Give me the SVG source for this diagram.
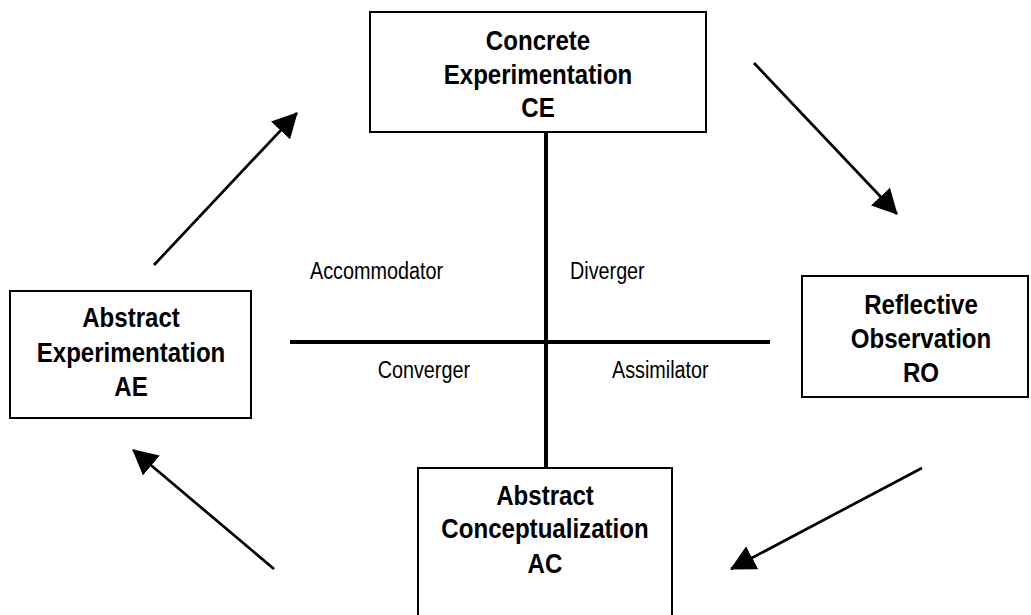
<svg xmlns="http://www.w3.org/2000/svg" width="1031" height="615" viewBox="0 0 1031 615">
<style>
.box{fill:#fff;stroke:#000;stroke-width:2}
.bt{font-family:"Liberation Sans",Arial,sans-serif;font-weight:bold;font-size:28px;text-anchor:middle;fill:#000}
.ql{font-family:"Liberation Sans",Arial,sans-serif;font-size:23px;fill:#000}
.axis{stroke:#000;stroke-width:4;fill:none}
.arr{stroke:#000;stroke-width:2.7;fill:none;marker-end:url(#ah)}
</style>
<defs>
<marker id="ah" markerUnits="userSpaceOnUse" markerWidth="27" markerHeight="26" refX="24" refY="13" orient="auto">
<path d="M0,0 L25,13 L0,26 Z" fill="#000"/>
</marker>
</defs>
<rect width="1031" height="615" fill="#fff"/>
<g id="connectors">
<line class="axis" x1="546" y1="132" x2="546" y2="468"/>
<line class="axis" x1="290" y1="342" x2="770" y2="342"/>
<line class="arr" x1="154" y1="265" x2="297" y2="113"/>
<line class="arr" x1="754" y1="63" x2="897" y2="214"/>
<line class="arr" x1="922" y1="468" x2="731" y2="569"/>
<line class="arr" x1="274" y1="569" x2="133" y2="450"/>
</g>
<g id="node-ce">
<rect class="box" x="370" y="12" width="336" height="120"/>
<g transform="translate(538 0) scale(0.86 1)">
<text class="bt" x="0" y="50">Concrete</text>
<text class="bt" x="0" y="84">Experimentation</text>
<text class="bt" x="0" y="117">CE</text>
</g>
</g>
<g id="node-ae">
<rect class="box" x="10" y="291" width="241" height="127"/>
<g transform="translate(131 0) scale(0.86 1)">
<text class="bt" x="0" y="327">Abstract</text>
<text class="bt" x="0" y="362">Experimentation</text>
<text class="bt" x="0" y="396">AE</text>
</g>
</g>
<g id="node-ro">
<rect class="box" x="802" y="276" width="226" height="121"/>
<g transform="translate(921 0) scale(0.86 1)">
<text class="bt" x="0" y="314">Reflective</text>
<text class="bt" x="0" y="348">Observation</text>
<text class="bt" x="0" y="382">RO</text>
</g>
</g>
<g id="node-ac">
<rect class="box" x="418" y="468" width="254" height="160"/>
<g transform="translate(545 0) scale(0.86 1)">
<text class="bt" x="0" y="505">Abstract</text>
<text class="bt" x="0" y="538">Conceptualization</text>
<text class="bt" x="0" y="573">AC</text>
</g>
</g>
<g id="quadrant-labels">
<g transform="translate(443 0) scale(0.86 1)"><text class="ql" x="0" y="279" text-anchor="end">Accommodator</text></g>
<g transform="translate(570 0) scale(0.86 1)"><text class="ql" x="0" y="279">Diverger</text></g>
<g transform="translate(470 0) scale(0.86 1)"><text class="ql" x="0" y="378" text-anchor="end">Converger</text></g>
<g transform="translate(612 0) scale(0.86 1)"><text class="ql" x="0" y="378">Assimilator</text></g>
</g>
</svg>
